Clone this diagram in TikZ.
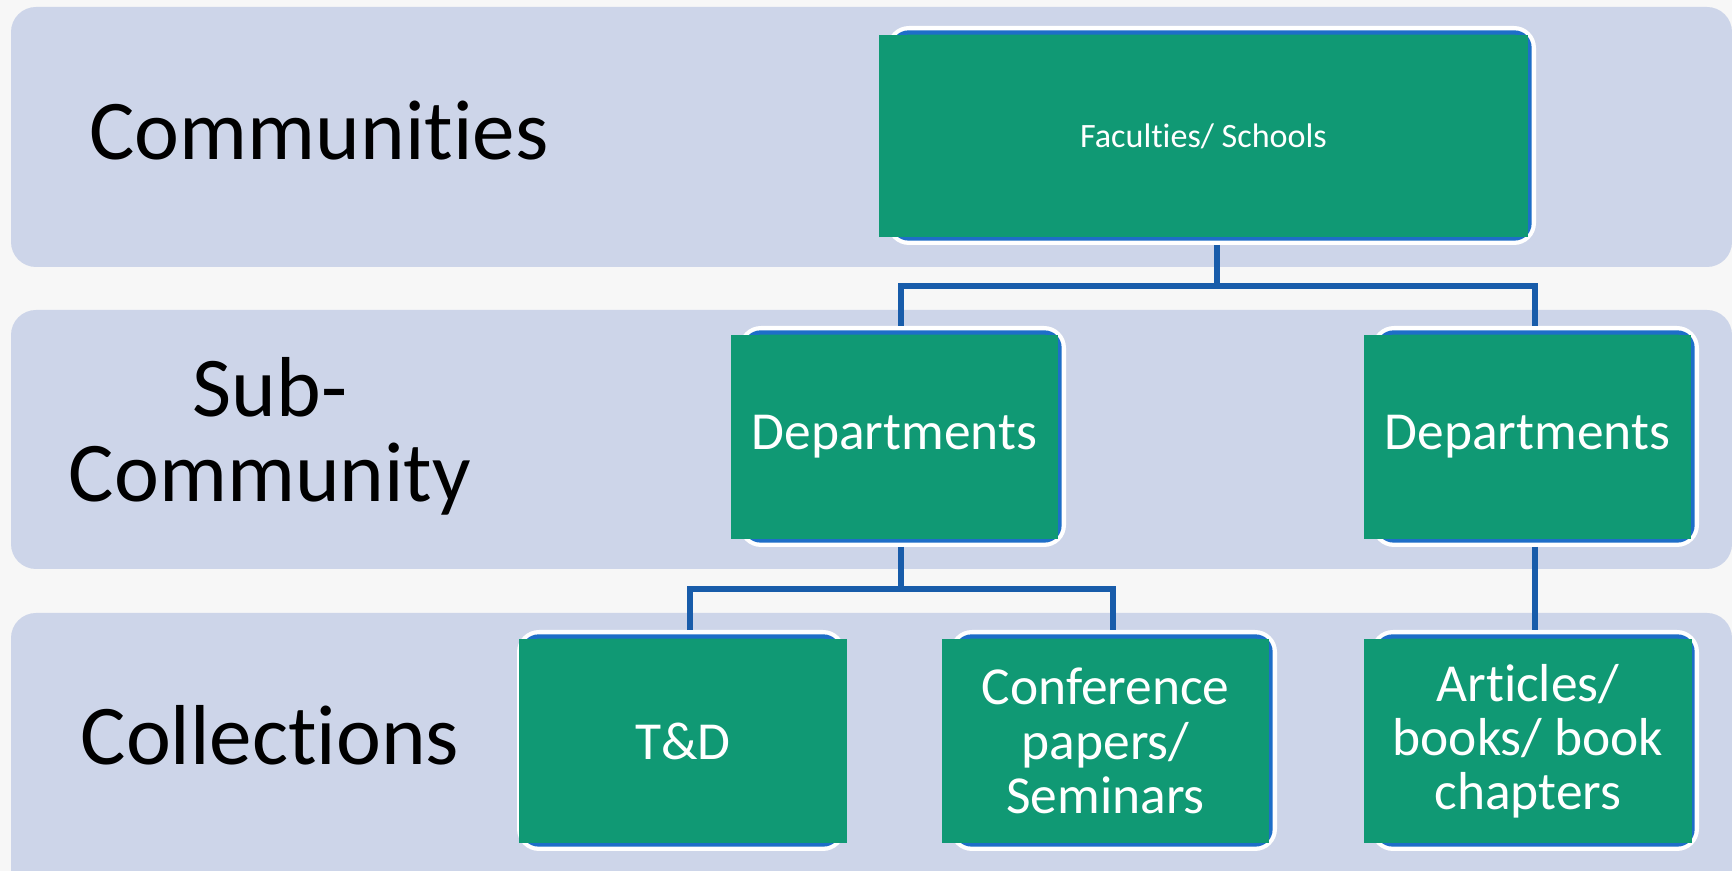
\documentclass[tikz,border=0pt]{standalone}
\usepackage{fontspec}
\setmainfont{Carlito}[Ligatures=NoCommon]
\definecolor{pagebg}{RGB}{247,247,247}
\definecolor{bandc}{RGB}{205,213,233}
\definecolor{boxgreen}{RGB}{16,153,116}
\definecolor{boxblue}{RGB}{30,110,200}
\definecolor{linkblue}{RGB}{24,92,170}

% rounded white-rimmed frame behind each green box
\newcommand\rimframe[4]{%
  \fill[frameouter] (#1,#2) rectangle (#3,#4);
  \draw[frameinner] ({#1+6.5},{#2+6.5}) rectangle ({#3-6.5},{#4-6.5});}

\begin{document}
\begin{tikzpicture}[x=0.01cm,y=-0.01cm,
  band/.style={fill=bandc, rounded corners=0.25cm},
  frameouter/.style={fill=white, rounded corners=0.22cm},
  frameinner/.style={fill=boxgreen, draw=boxblue, line width=1.2pt, rounded corners=0.15cm},
  gbox/.style={fill=boxgreen, text=white, inner sep=0pt, align=center,
    font=\fontsize{15.2}{15.4}\selectfont},
  rowlabel/.style={text=black, inner sep=0pt, align=center,
    font=\fontsize{24.2}{24.2}\selectfont},
  link/.style={draw=linkblue, line width=1.7pt, line join=miter}]
\useasboundingbox (0,0) rectangle (1732,871);
\clip (0,0) rectangle (1732,871);
\fill[pagebg] (0,0) rectangle (1732,871);

% level bands
\fill[band] (11,7) rectangle (1732,267);
\fill[band] (11,310) rectangle (1732,569);
\fill[band] (11,613) rectangle (1732,930);

% level labels
\node (lcom) [rowlabel, anchor=base] at (319,160) {Communities};
\node (lsub) [rowlabel] at (270,436) {Sub-\\Community};
\node (lcol) [rowlabel, anchor=base] at (270,765) {Collections};

% frames
\rimframe{887}{26}{1536}{245}
\rimframe{739}{326}{1066}{547}
\rimframe{1372}{326}{1699}{547}
\rimframe{517}{630}{845}{851}
\rimframe{950}{630}{1277}{851}
\rimframe{1371}{630}{1699}{851}

% green boxes
\node (fac) [gbox, minimum width=6.49cm, minimum height=2.02cm,
  font=\fontsize{9.7}{11}\selectfont] at (1203.5,136) {Faculties/ Schools};
\node (depL) [gbox, minimum width=3.27cm, minimum height=2.04cm] at (894.5,437) {Departments};
\node (depR) [gbox, minimum width=3.27cm, minimum height=2.04cm] at (1527.5,437) {Departments};
\node (td) [gbox, minimum width=3.28cm, minimum height=2.04cm] at (683,741) {T\&D};
\node (conf) [gbox, minimum width=3.27cm, minimum height=2.04cm] at (1105.5,741) {Conference\\papers/\\Seminars};
\node (art) [gbox, minimum width=3.28cm, minimum height=2.04cm] at (1528,741) {Articles/\\books/ book\\chapters};

% connector end points
\coordinate (facS) at (1217,245);
\coordinate (depLN) at (901,326);
\coordinate (depRN) at (1535,326);
\coordinate (depLS) at (901,547);
\coordinate (depRS) at (1535,547);
\coordinate (tdN) at (690,630);
\coordinate (confN) at (1113,630);
\coordinate (artN) at (1535,630);
\coordinate (topbar) at (0,286);
\coordinate (lowbar) at (0,589);

% connectors
\draw[link] (facS) -- (facS |- topbar) -| (depLN);
\draw[link] (facS |- topbar) -| (depRN);
\draw[link] (depLS) -- (depLS |- lowbar) -| (tdN);
\draw[link] (depLS |- lowbar) -| (confN);
\draw[link] (depRS) -- (artN);
\end{tikzpicture}
\end{document}
